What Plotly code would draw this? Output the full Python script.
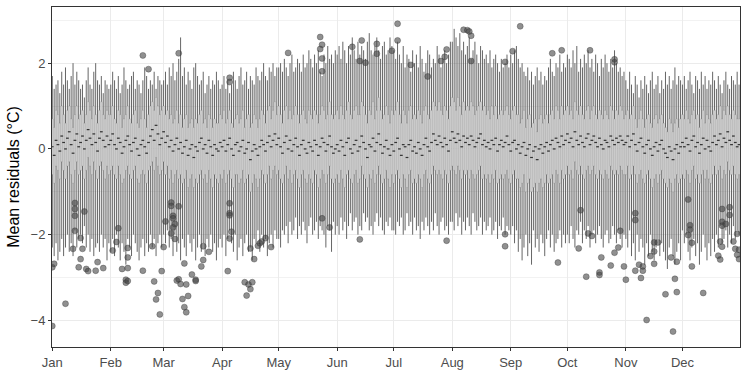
import plotly.graph_objects as go

# month start days (day index 0 = 1 Jan) and labels
month_start = [0, 31, 59, 90, 120, 151, 181, 212, 243, 273, 304, 334]
month_label = ["Jan", "Feb", "Mar", "Apr", "May", "Jun", "Jul", "Aug", "Sep", "Oct", "Nov", "Dec"]
month_days = [31, 28, 31, 30, 31, 30, 31, 31, 30, 31, 30, 31]

# upper whisker end per day, one row per month
upper_whisker = [
    [1.7, 1.4, 1.5, 1.6, 1.3, 1.8, 1.5, 1.9, 1.6, 1.4, 1.7, 2.0, 1.5, 1.8, 1.6, 1.4, 1.5, 1.2, 1.6, 1.9, 1.5, 1.4, 1.8, 2.0, 1.6, 1.5, 1.7, 1.3, 1.6, 1.5, 1.4],
    [1.5, 1.8, 1.6, 1.4, 1.7, 1.3, 1.5, 1.9, 1.6, 1.4, 1.5, 1.7, 1.8, 1.4, 1.6, 1.5, 1.3, 1.6, 1.9, 1.7, 1.4, 1.6, 1.5, 1.8, 1.4, 1.7, 1.6, 1.5],
    [1.6, 1.8, 1.5, 1.9, 1.7, 2.0, 1.6, 1.8, 2.1, 2.6, 1.7, 1.9, 1.5, 1.8, 1.6, 1.4, 1.9, 2.0, 1.7, 1.5, 1.6, 1.8, 1.3, 1.5, 1.7, 1.4, 1.6, 1.5, 1.8, 1.6, 1.4],
    [1.5, 1.7, 1.4, 1.6, 1.3, 1.5, 1.8, 1.6, 1.4, 1.7, 1.9, 1.5, 1.6, 1.8, 1.4, 1.7, 1.6, 1.5, 1.9, 1.7, 1.6, 1.8, 2.0, 1.7, 1.6, 1.9, 1.8, 2.0, 1.7, 1.9],
    [1.9, 2.0, 1.8, 2.1, 1.9, 1.7, 2.0, 2.2, 1.8, 1.9, 2.1, 2.0, 1.8, 2.2, 1.9, 2.0, 2.3, 2.1, 1.9, 2.2, 2.0, 2.3, 1.8, 1.7, 2.2, 2.0, 2.4, 2.1, 2.2, 2.0, 2.3],
    [2.2, 2.4, 2.1, 2.5, 2.3, 2.0, 2.4, 2.2, 2.6, 2.3, 2.1, 2.5, 2.2, 2.4, 2.3, 2.1, 2.5, 2.7, 2.3, 2.2, 2.4, 2.6, 2.3, 2.1, 2.4, 2.5, 2.2, 2.3, 2.6, 2.4],
    [2.3, 2.1, 2.5, 2.2, 2.0, 2.4, 1.9, 2.2, 2.1, 1.8, 2.3, 2.0, 2.2, 1.9, 2.4, 2.1, 1.8, 2.0, 2.3, 2.2, 1.9, 2.1, 2.0, 2.4, 2.2, 1.9, 2.1, 2.3, 2.0, 2.2, 2.5],
    [2.5, 2.8, 2.6, 2.4, 2.7, 2.3, 2.5, 2.2, 2.4, 2.6, 2.1, 2.3, 2.5, 2.2, 2.0, 2.4, 2.3, 2.1, 2.2, 2.0, 2.3, 1.9, 2.1, 2.2, 2.0, 1.8, 2.1, 1.9, 2.0, 2.2, 1.9],
    [2.2, 2.0, 2.3, 2.4, 2.1, 1.9, 2.0, 1.8, 1.7, 1.9, 1.6, 1.8, 1.5, 1.7, 1.9, 1.6, 1.8, 1.5, 1.7, 1.6, 1.9, 2.1, 1.8, 1.7, 2.0, 1.9, 2.2, 1.8, 2.0, 1.9],
    [2.2, 2.1, 1.9, 2.3, 2.0, 2.4, 1.8, 2.1, 1.9, 2.2, 2.0, 2.3, 1.9, 2.1, 1.8, 2.2, 2.0, 1.7, 2.1, 1.9, 2.2, 2.0, 1.8, 2.1, 1.9, 2.3, 2.0, 1.8, 1.9, 1.7, 1.8],
    [1.6, 1.4, 1.8, 1.5, 1.3, 1.7, 1.5, 1.2, 1.6, 1.4, 1.7, 1.5, 1.3, 1.6, 1.8, 1.4, 1.5, 1.7, 1.3, 1.6, 1.4, 1.8, 1.5, 1.7, 1.4, 1.6, 1.9, 1.5, 1.7, 1.6],
    [1.5, 1.7, 1.4, 1.6, 1.8, 1.5, 1.3, 1.7, 1.6, 1.4, 1.8, 1.5, 1.7, 1.4, 1.6, 1.5, 1.8, 1.6, 1.4, 1.7, 1.5, 1.3, 1.6, 1.8, 1.5, 1.4, 1.7, 1.6, 1.5, 1.8, 1.5],
]

q3 = [
    [0.7, 0.5, 0.9, 0.8, 0.6, 1.0, 0.8, 0.6, 0.9, 1.0, 0.7, 0.5, 0.8, 1.0, 0.7, 0.8, 0.9, 0.6, 0.8, 1.1, 0.9, 0.7, 1.0, 0.8, 0.6, 0.9, 1.1, 0.8, 0.7, 0.9, 0.8],
    [0.8, 1.0, 0.7, 0.6, 0.9, 0.8, 0.5, 0.7, 0.8, 1.0, 0.7, 0.6, 0.8, 0.9, 0.6, 0.5, 0.7, 0.9, 0.7, 0.5, 0.8, 1.0, 1.1, 0.9, 1.2, 1.0, 0.8, 0.9],
    [1.0, 0.8, 0.9, 0.7, 0.8, 0.6, 0.7, 0.9, 0.6, 0.8, 0.5, 0.7, 0.8, 0.5, 0.6, 0.7, 0.5, 0.7, 0.6, 0.8, 0.9, 0.6, 0.7, 0.5, 0.8, 0.7, 0.5, 0.7, 0.6, 0.6, 0.8],
    [0.7, 0.9, 0.6, 0.7, 0.9, 0.6, 0.5, 0.7, 0.8, 0.6, 0.7, 0.9, 0.5, 0.7, 0.8, 0.5, 0.6, 0.8, 0.7, 0.5, 0.7, 0.9, 0.8, 0.6, 0.9, 1.0, 0.7, 0.9, 1.1, 0.8],
    [1.0, 0.8, 0.6, 0.9, 1.0, 0.7, 0.9, 0.7, 0.8, 1.0, 0.8, 0.6, 0.8, 0.9, 0.7, 0.6, 0.9, 0.8, 0.7, 0.9, 0.8, 0.6, 0.8, 1.0, 0.9, 0.7, 0.8, 1.1, 0.8, 0.7, 0.8],
    [0.9, 0.7, 1.0, 0.8, 0.7, 0.9, 1.1, 0.8, 0.7, 0.9, 1.0, 0.8, 0.8, 1.1, 1.0, 0.8, 0.6, 0.9, 0.8, 1.1, 0.7, 0.9, 1.2, 0.9, 0.7, 0.8, 1.0, 0.8, 0.6, 0.9],
    [0.8, 0.9, 1.1, 0.8, 0.6, 0.9, 0.8, 0.6, 0.9, 1.0, 0.7, 0.8, 0.7, 0.9, 0.8, 0.6, 0.9, 1.0, 0.8, 0.7, 0.9, 1.1, 1.0, 0.9, 1.1, 0.9, 0.8, 1.0, 0.9, 0.7, 1.0],
    [1.2, 1.1, 0.9, 1.2, 1.0, 0.8, 1.1, 0.9, 1.0, 0.9, 1.1, 1.0, 0.8, 0.9, 1.0, 1.1, 0.9, 1.0, 0.8, 0.9, 0.7, 1.0, 0.8, 1.0, 0.7, 0.8, 0.9, 0.8, 0.9, 1.0, 0.8],
    [0.7, 0.9, 1.0, 0.8, 0.8, 0.6, 0.7, 0.9, 0.5, 0.7, 0.8, 0.5, 0.6, 0.7, 0.4, 0.7, 0.8, 0.6, 0.7, 0.8, 0.6, 0.8, 0.9, 0.7, 1.0, 0.9, 0.7, 1.0, 0.8, 0.9],
    [1.0, 0.8, 0.9, 0.7, 1.1, 0.9, 0.8, 1.0, 0.8, 0.7, 0.9, 1.0, 0.7, 0.9, 1.0, 0.8, 0.7, 0.9, 0.8, 0.7, 0.9, 0.8, 0.7, 1.0, 0.9, 0.7, 0.9, 0.8, 1.0, 0.9, 0.7],
    [0.8, 0.9, 0.7, 0.8, 1.0, 0.7, 0.5, 0.7, 0.9, 0.7, 0.5, 0.7, 0.8, 0.6, 0.5, 0.7, 0.8, 0.6, 0.7, 0.8, 0.6, 0.5, 0.4, 0.7, 0.6, 0.4, 0.6, 0.7, 0.5, 0.7],
    [0.8, 0.7, 0.9, 0.7, 0.6, 0.8, 0.9, 0.7, 0.8, 0.5, 0.7, 0.9, 0.6, 0.8, 0.7, 0.6, 0.8, 0.9, 0.7, 0.8, 1.0, 0.7, 0.9, 0.8, 1.0, 0.8, 0.7, 0.9, 0.8, 0.7, 0.7],
]

median = [
    [0.05, -0.15, 0.20, 0.10, -0.05, 0.30, 0.15, 0.00, 0.25, 0.40, 0.10, -0.10, 0.20, 0.35, 0.05, 0.15, 0.30, 0.00, 0.20, 0.45, 0.25, 0.10, 0.35, 0.15, -0.05, 0.25, 0.40, 0.20, 0.05, 0.30, 0.10],
    [0.20, 0.35, 0.10, 0.00, 0.25, 0.15, -0.10, 0.05, 0.20, 0.30, 0.10, -0.05, 0.15, 0.25, 0.00, -0.15, 0.10, 0.20, 0.05, -0.10, 0.15, 0.30, 0.45, 0.20, 0.55, 0.35, 0.10, 0.25],
    [0.40, 0.15, 0.30, 0.05, 0.20, -0.05, 0.10, 0.25, 0.00, 0.15, -0.10, 0.05, 0.20, -0.15, 0.00, 0.10, -0.20, 0.05, -0.05, 0.15, 0.25, 0.00, 0.10, -0.10, 0.20, 0.05, -0.15, 0.10, 0.00, -0.05, 0.15],
    [0.05, 0.20, -0.05, 0.10, 0.25, 0.00, -0.15, 0.10, 0.15, -0.05, 0.05, 0.20, -0.10, 0.00, 0.15, -0.25, -0.05, 0.10, 0.00, -0.15, 0.05, 0.20, 0.10, -0.05, 0.15, 0.30, 0.05, 0.20, 0.35, 0.10],
    [0.25, 0.05, -0.10, 0.15, 0.30, 0.00, 0.20, -0.05, 0.10, 0.25, 0.05, -0.15, 0.10, 0.20, 0.00, -0.10, 0.15, 0.05, -0.05, 0.20, 0.10, -0.15, 0.05, 0.25, 0.15, -0.05, 0.10, 0.30, 0.05, -0.10, 0.00],
    [0.10, -0.05, 0.20, 0.05, -0.15, 0.15, 0.25, 0.00, -0.10, 0.10, 0.20, -0.05, 0.05, 0.30, 0.15, 0.00, -0.20, 0.10, 0.05, 0.25, -0.05, 0.15, 0.35, 0.10, -0.10, 0.05, 0.20, 0.00, -0.15, 0.10],
    [-0.05, 0.15, 0.25, 0.00, -0.15, 0.10, 0.05, -0.20, 0.10, 0.20, -0.05, 0.05, -0.10, 0.15, 0.00, -0.15, 0.10, 0.25, 0.05, -0.05, 0.15, 0.35, 0.20, 0.10, 0.30, 0.15, 0.05, 0.25, 0.10, -0.05, 0.20],
    [0.40, 0.25, 0.15, 0.35, 0.20, 0.05, 0.30, 0.15, 0.25, 0.10, 0.30, 0.20, 0.05, 0.15, 0.25, 0.35, 0.10, 0.20, 0.05, 0.15, 0.00, 0.20, 0.10, 0.25, -0.05, 0.10, 0.20, 0.05, 0.15, 0.30, 0.10],
    [-0.05, 0.15, 0.20, 0.00, 0.10, -0.10, 0.05, 0.15, -0.15, 0.00, 0.10, -0.20, -0.05, 0.05, -0.25, 0.00, 0.10, -0.10, 0.05, 0.15, -0.05, 0.10, 0.20, 0.00, 0.25, 0.15, 0.05, 0.30, 0.10, 0.20],
    [0.35, 0.15, 0.25, 0.05, 0.40, 0.20, 0.10, 0.30, 0.15, 0.05, 0.25, 0.35, 0.10, 0.20, 0.30, 0.15, 0.05, 0.25, 0.10, 0.00, 0.20, 0.15, 0.05, 0.30, 0.20, 0.10, 0.25, 0.15, 0.30, 0.20, 0.10],
    [0.15, 0.30, 0.05, 0.20, 0.35, 0.10, -0.05, 0.15, 0.25, 0.05, -0.10, 0.10, 0.20, 0.00, -0.15, 0.05, 0.15, -0.05, 0.10, 0.20, 0.00, -0.10, -0.20, 0.05, -0.05, -0.25, 0.00, 0.10, -0.10, 0.05],
    [0.15, 0.05, 0.25, 0.10, -0.05, 0.20, 0.30, 0.05, 0.15, -0.10, 0.10, 0.25, 0.00, 0.20, 0.05, -0.05, 0.15, 0.30, 0.10, 0.20, 0.35, 0.05, 0.25, 0.15, 0.40, 0.20, 0.10, 0.30, 0.15, 0.05, 0.10],
]

q1 = [
    [-0.6, -0.8, -0.4, -0.5, -0.7, -0.3, -0.5, -0.7, -0.4, -0.3, -0.6, -0.8, -0.5, -0.3, -0.6, -0.5, -0.4, -0.7, -0.5, -0.2, -0.4, -0.6, -0.3, -0.5, -0.7, -0.4, -0.3, -0.5, -0.7, -0.4, -0.6],
    [-0.5, -0.4, -0.6, -0.7, -0.4, -0.6, -0.8, -0.7, -0.5, -0.4, -0.6, -0.7, -0.5, -0.4, -0.7, -0.8, -0.6, -0.5, -0.6, -0.8, -0.5, -0.4, -0.3, -0.5, -0.2, -0.4, -0.6, -0.5],
    [-0.3, -0.6, -0.4, -0.7, -0.5, -0.8, -0.6, -0.5, -0.7, -0.6, -0.8, -0.7, -0.5, -0.9, -0.7, -0.6, -0.9, -0.7, -0.8, -0.6, -0.5, -0.7, -0.6, -0.8, -0.5, -0.7, -0.9, -0.6, -0.7, -0.8, -0.6],
    [-0.7, -0.5, -0.8, -0.6, -0.5, -0.7, -0.9, -0.6, -0.6, -0.8, -0.7, -0.5, -0.8, -0.7, -0.6, -1.0, -0.8, -0.6, -0.7, -0.9, -0.7, -0.5, -0.6, -0.8, -0.6, -0.4, -0.7, -0.5, -0.4, -0.6],
    [-0.5, -0.7, -0.8, -0.6, -0.4, -0.7, -0.5, -0.8, -0.6, -0.5, -0.7, -0.9, -0.6, -0.5, -0.7, -0.8, -0.6, -0.7, -0.8, -0.5, -0.6, -0.9, -0.7, -0.5, -0.6, -0.8, -0.6, -0.4, -0.7, -0.8, -0.7],
    [-0.6, -0.8, -0.5, -0.7, -0.9, -0.6, -0.5, -0.7, -0.8, -0.6, -0.5, -0.8, -0.7, -0.4, -0.6, -0.7, -0.9, -0.6, -0.7, -0.5, -0.8, -0.6, -0.4, -0.6, -0.8, -0.7, -0.5, -0.7, -0.9, -0.6],
    [-0.8, -0.6, -0.5, -0.7, -0.9, -0.6, -0.7, -0.9, -0.6, -0.5, -0.8, -0.7, -0.8, -0.6, -0.7, -0.9, -0.6, -0.5, -0.7, -0.8, -0.6, -0.4, -0.5, -0.6, -0.5, -0.6, -0.7, -0.5, -0.6, -0.8, -0.5],
    [-0.4, -0.5, -0.6, -0.4, -0.5, -0.7, -0.5, -0.6, -0.5, -0.7, -0.5, -0.6, -0.7, -0.6, -0.5, -0.4, -0.7, -0.6, -0.7, -0.6, -0.8, -0.6, -0.7, -0.5, -0.8, -0.7, -0.6, -0.7, -0.6, -0.5, -0.7],
    [-0.8, -0.6, -0.5, -0.7, -0.7, -0.9, -0.8, -0.6, -1.0, -0.8, -0.7, -1.0, -0.9, -0.8, -1.0, -0.8, -0.7, -0.9, -0.8, -0.6, -0.8, -0.7, -0.6, -0.8, -0.5, -0.6, -0.8, -0.5, -0.7, -0.6],
    [-0.4, -0.6, -0.5, -0.7, -0.3, -0.5, -0.6, -0.4, -0.6, -0.7, -0.5, -0.4, -0.6, -0.5, -0.4, -0.6, -0.7, -0.5, -0.6, -0.7, -0.5, -0.6, -0.7, -0.4, -0.5, -0.6, -0.5, -0.6, -0.4, -0.5, -0.6],
    [-0.6, -0.4, -0.7, -0.6, -0.4, -0.6, -0.8, -0.6, -0.5, -0.7, -0.8, -0.6, -0.5, -0.7, -0.9, -0.7, -0.6, -0.8, -0.6, -0.5, -0.7, -0.8, -0.9, -0.7, -0.8, -1.0, -0.7, -0.6, -0.8, -0.7],
    [-0.6, -0.7, -0.5, -0.6, -0.8, -0.5, -0.4, -0.7, -0.6, -0.8, -0.6, -0.5, -0.7, -0.5, -0.7, -0.8, -0.6, -0.4, -0.6, -0.5, -0.4, -0.7, -0.5, -0.6, -0.3, -0.5, -0.6, -0.4, -0.6, -0.7, -0.6],
]

lower_whisker = [
    [-2.3, -2.5, -2.2, -2.6, -2.4, -2.1, -2.5, -2.3, -2.0, -2.4, -2.2, -2.5, -1.9, -2.3, -2.1, -2.0, -2.2, -1.8, -2.3, -2.0, -2.4, -2.1, -2.5, -2.3, -2.2, -2.4, -2.0, -2.3, -2.1, -2.6, -2.2],
    [-2.4, -2.1, -2.5, -2.0, -2.3, -2.6, -2.2, -2.4, -2.7, -2.1, -2.3, -2.5, -2.0, -2.2, -2.4, -2.6, -2.3, -2.1, -2.5, -2.2, -2.4, -2.0, -2.3, -2.1, -2.5, -2.2, -2.0, -2.3],
    [-2.0, -2.2, -1.9, -2.3, -2.1, -2.5, -2.0, -2.4, -2.2, -2.6, -2.1, -2.3, -2.5, -2.0, -2.2, -2.4, -2.1, -2.6, -2.3, -2.0, -2.4, -2.2, -2.5, -2.1, -2.3, -2.0, -2.4, -2.2, -2.6, -2.3, -2.1],
    [-2.3, -2.0, -2.5, -2.1, -1.9, -2.2, -2.4, -2.0, -2.6, -2.3, -2.1, -2.5, -2.2, -2.0, -2.4, -2.3, -2.6, -2.1, -2.2, -1.9, -2.4, -2.0, -2.3, -2.1, -2.5, -2.2, -2.0, -2.3, -1.9, -2.1],
    [-2.1, -2.3, -1.9, -2.0, -1.8, -2.2, -1.7, -2.0, -1.9, -1.6, -2.1, -1.8, -2.0, -1.7, -1.9, -2.2, -1.8, -1.6, -2.0, -1.9, -1.7, -2.1, -1.8, -1.9, -2.0, -2.3, -1.8, -1.9, -2.4, -1.7, -2.0],
    [-1.8, -2.0, -1.6, -1.9, -1.7, -2.1, -1.8, -1.5, -1.9, -1.7, -1.6, -2.0, -1.8, -1.9, -1.5, -1.7, -1.6, -1.9, -1.8, -2.0, -1.7, -1.5, -1.8, -1.6, -1.9, -2.0, -1.7, -1.8, -1.6, -1.9],
    [-1.9, -2.0, -1.7, -1.8, -1.6, -2.0, -1.9, -1.5, -1.8, -1.7, -2.0, -1.6, -1.9, -1.8, -2.1, -1.7, -1.9, -1.6, -1.8, -2.0, -1.7, -1.9, -1.5, -1.8, -2.0, -1.7, -1.6, -1.9, -1.8, -2.0, -1.7],
    [-1.7, -1.9, -1.5, -1.8, -1.6, -2.0, -1.7, -1.9, -1.6, -1.8, -2.0, -1.5, -1.7, -1.9, -1.8, -1.6, -2.0, -1.7, -1.9, -1.8, -1.6, -2.0, -1.9, -1.7, -2.1, -1.8, -1.9, -1.6, -2.0, -1.8, -1.9],
    [-2.0, -1.8, -2.2, -1.9, -2.4, -2.1, -2.6, -2.3, -2.0, -2.5, -2.2, -2.7, -1.9, -2.3, -2.1, -2.4, -2.0, -2.2, -2.5, -2.1, -1.9, -2.3, -2.0, -2.4, -2.2, -2.1, -1.9, -2.3, -2.0, -2.2],
    [-2.0, -2.2, -1.8, -2.1, -2.3, -1.9, -2.0, -1.7, -2.2, -1.9, -2.1, -1.8, -2.3, -2.0, -1.9, -2.2, -2.0, -1.8, -2.1, -2.3, -2.0, -1.9, -2.2, -2.1, -1.8, -2.0, -2.2, -1.9, -2.1, -2.3, -2.0],
    [-2.1, -2.3, -1.9, -2.5, -2.2, -2.6, -2.0, -2.4, -2.1, -2.3, -2.7, -2.2, -2.5, -2.0, -2.4, -2.6, -2.3, -2.1, -2.5, -2.2, -2.4, -2.6, -2.8, -2.3, -2.1, -2.5, -2.7, -2.4, -2.2, -2.6],
    [-1.9, -2.2, -2.0, -2.4, -2.6, -2.3, -2.1, -2.5, -2.2, -2.7, -2.4, -2.0, -2.3, -2.6, -2.2, -2.5, -2.1, -2.4, -2.0, -2.3, -1.8, -2.2, -2.1, -1.9, -2.3, -2.0, -2.2, -1.8, -2.1, -1.9, -2.0],
]

# outlying daily values: day index and residual
outlier_day = [
    48, 51, 67, 94, 94, 125, 142, 143, 142, 143, 143, 159, 164, 163, 166, 172, 172, 180, 183, 183,
    190, 199, 206, 208, 209, 218, 220, 221, 222, 222, 240, 244, 248, 265, 270, 285, 298, 298,
    0, 1, 0, 7, 12, 12, 12, 12, 11, 15, 16, 15, 14, 17, 18, 19, 23, 24, 27, 32, 34, 35, 37,
    40, 40, 40, 39, 39, 40, 48, 53, 54, 55, 56, 57, 58, 59, 60, 63, 63, 64, 64, 65, 64, 63, 65,
    67, 66, 67, 68, 69, 70, 71, 70, 71, 72, 74, 76, 76, 79, 80, 80, 83, 93, 94, 94, 94, 94, 95,
    102, 103, 104, 105, 106, 105, 107, 109, 110, 111, 113, 116, 143, 147, 163, 209, 240, 240,
    268, 279, 280, 283, 284, 286, 290, 290, 291, 296, 298, 300, 301, 303, 304, 309, 309, 309,
    311, 313, 313, 312, 315, 317, 319, 319, 319, 321, 325, 328, 329, 330, 331, 331, 337, 338,
    338, 337, 339, 339, 345, 355, 359, 359, 355, 355, 357, 355, 354, 353, 354, 361, 363, 362,
    364, 363, 364,
]
outlier_value = [
    2.18, 1.86, 2.23, 1.66, 1.56, 2.24, 2.61, 2.43, 2.33, 2.11, 1.81, 2.38, 2.53, 2.05, 2.01, 2.45, 2.22, 2.29, 2.92, 2.53,
    1.96, 1.69, 2.05, 2.15, 2.32, 2.78, 2.77, 2.74, 2.64, 2.05, 2.03, 2.28, 2.86, 2.23, 2.30, 2.30, 2.09, 2.02,
    -2.76, -2.68, -4.13, -3.61, -1.26, -1.40, -1.56, -1.91, -2.33, -2.08, -2.33, -2.57, -2.76, -1.46, -2.80, -2.85, -2.84, -2.64, -2.78, -2.37, -2.17, -1.85, -2.80,
    -2.31, -2.53, -2.78, -3.05, -3.12, -3.08, -2.84, -2.27, -3.09, -3.51, -3.36, -3.86, -2.85, -2.29, -1.69, -1.25, -1.33, -1.56, -1.62, -1.75, -1.83, -1.97, -2.10,
    -1.34, -3.07, -3.04, -3.15, -3.50, -3.69, -3.81, -2.67, -3.16, -3.43, -2.93, -3.05, -3.08, -2.74, -2.59, -2.27, -2.40, -2.85, -1.27, -1.50, -1.55, -2.09, -1.93,
    -3.11, -3.42, -3.16, -3.27, -3.11, -2.32, -2.57, -2.26, -2.20, -2.16, -2.08, -2.29, -1.62, -1.83, -2.11, -2.14, -1.99, -2.27,
    -2.65, -2.32, -1.43, -2.98, -1.97, -2.03, -2.88, -2.94, -2.53, -2.72, -2.42, -2.30, -1.91, -2.74, -3.05, -1.50, -1.66, -2.84,
    -2.70, -2.74, -2.84, -3.01, -3.99, -2.50, -2.39, -2.68, -2.18, -2.18, -3.39, -2.53, -4.26, -3.03, -2.63, -3.34, -1.18, -1.78,
    -1.88, -2.01, -2.19, -2.74, -3.36, -1.40, -1.36, -1.54, -1.70, -1.79, -1.75, -2.28, -2.16, -2.49, -2.58, -2.16, -1.98, -2.33,
    -2.35, -2.47, -2.57,
]


def flatten(rows, name):
    out = []
    for m, row in enumerate(rows):
        if len(row) != month_days[m]:
            raise ValueError(f"{name}: month {m + 1} has {len(row)} values")
        out.extend(row)
    return out


hi = flatten(upper_whisker, "upper")
up = flatten(q3, "q3")
mid = flatten(median, "median")
low = flatten(q1, "q1")
lo = flatten(lower_whisker, "lower")
if len(outlier_day) != len(outlier_value):
    raise ValueError(f"outliers {len(outlier_day)} vs {len(outlier_value)}")
days = list(range(365))

# whisker segments (box end -> whisker end), None breaks between days
wx, wy = [], []
for d in days:
    wx += [d, d, None, d, d, None]
    wy += [up[d], hi[d], None, low[d], lo[d], None]

fig = go.Figure()

# --- whiskers ---
fig.add_trace(
    go.Scatter(
        x=wx,
        y=wy,
        mode="lines",
        line=dict(color="#4A4A4A", width=0.85),
        showlegend=False,
        hoverinfo="skip",
    )
)

# --- daily boxes ---
fig.add_trace(
    go.Box(
        x=days,
        q1=low,
        median=mid,
        q3=up,
        lowerfence=low,
        upperfence=up,
        width=0.8,
        whiskerwidth=0,
        boxpoints=False,
        fillcolor="#D9D9D9",
        line=dict(color="#8F8F8F", width=0.4),
        showlegend=False,
        hoverinfo="skip",
    )
)

# median ticks, darker like ggplot's fattened median line
fig.add_trace(
    go.Scatter(
        x=days,
        y=mid,
        mode="markers",
        marker=dict(symbol="line-ew", size=2, line=dict(color="#333333", width=1.2)),
        showlegend=False,
        hoverinfo="skip",
    )
)

# --- outliers ---
fig.add_trace(
    go.Scatter(
        x=outlier_day,
        y=outlier_value,
        mode="markers",
        marker=dict(size=6, color="rgba(70,70,70,0.6)", line=dict(color="rgba(50,50,50,0.6)", width=0.6)),
        showlegend=False,
    )
)

axis_font = dict(family="Liberation Sans, Arial, sans-serif", size=13, color="#4D4D4D")

fig.update_layout(
    width=747,
    height=374,
    margin=dict(l=52, r=7, t=7, b=27),
    plot_bgcolor="white",
    paper_bgcolor="white",
    font=dict(family="Liberation Sans, Arial, sans-serif"),
)

fig.update_xaxes(
    automargin=False,
    range=[-0.15, 364.5],
    tickmode="array",
    tickvals=month_start,
    ticktext=month_label,
    tickfont=axis_font,
    ticks="outside",
    ticklen=3,
    tickcolor="#333333",
    showgrid=True,
    gridcolor="#EBEBEB",
    gridwidth=1,
    showline=True,
    mirror=True,
    linecolor="#333333",
    linewidth=1,
    zeroline=False,
)

fig.update_yaxes(
    automargin=False,
    range=[-4.62, 3.31],
    tickmode="array",
    tickvals=[-4, -2, 0, 2],
    ticktext=["\u22124", "\u22122", "0", "2"],
    tickfont=axis_font,
    ticks="outside",
    ticklen=3,
    tickcolor="#333333",
    showgrid=True,
    gridcolor="#EBEBEB",
    gridwidth=1,
    minor=dict(tickvals=[-3, -1, 1, 3], showgrid=True, gridcolor="#F2F2F2", gridwidth=0.6, ticks=""),
    showline=True,
    mirror=True,
    linecolor="#333333",
    linewidth=1,
    zeroline=False,
    title=dict(text="Mean residuals (°C)", font=dict(size=16, color="black"), standoff=6),
)

# the page's default body margin would shift the figure by 8px
fig.write_html(
    "out.html",
    config={"displayModeBar": False},
    post_script="document.body.style.margin='0';",
)
